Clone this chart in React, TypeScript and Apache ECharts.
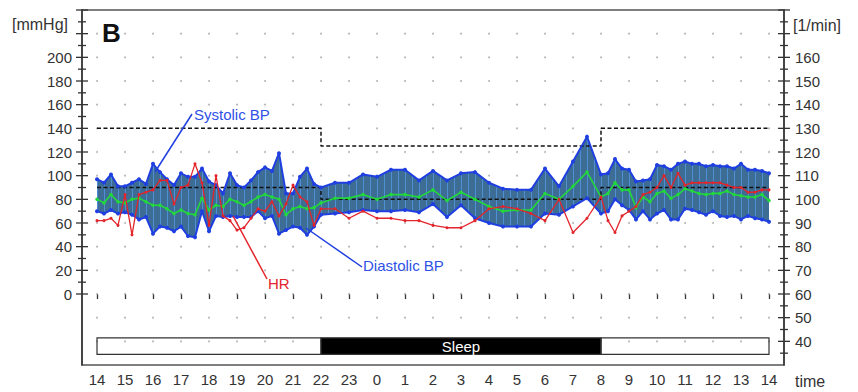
import React, { useEffect, useRef } from "react";
import * as echarts from "echarts";

// ---- Data (hours; 24+ = next day) ----
const times = [
  14, 14.25, 14.5, 14.75, 15, 15.25, 15.5, 15.75, 16, 16.25, 16.5, 16.75, 17, 17.25, 17.5, 17.75,
  18, 18.25, 18.5, 18.75, 19, 19.25, 19.5, 19.75, 20, 20.25, 20.5, 20.75, 21, 21.25, 21.5, 21.75, 22,
  22.5, 23, 23.5, 24, 24.5, 25, 25.5, 26, 26.5, 27, 27.5, 28, 28.5, 29, 29.5, 30, 30.5, 31, 31.5,
  32, 32.25, 32.5, 32.75, 33, 33.25, 33.5, 33.75, 34, 34.25, 34.5, 34.75, 35, 35.25, 35.5, 35.75,
  36, 36.25, 36.5, 36.75, 37, 37.25, 37.5, 37.75, 38,
];
const systolic = [
  97, 94, 101, 91, 91, 94, 97, 93, 110, 103, 97, 92, 102, 99, 99, 106, 95, 92, 85, 102, 92, 90, 96, 103, 107, 104, 119, 85, 85, 99, 106, 93, 90,
  94, 94, 101, 99, 105, 105, 96, 104, 96, 102, 103, 94, 89, 88, 88, 106, 91, 112, 133,
  101, 102, 114, 106, 105, 95, 96, 97, 109, 108, 105, 110, 112, 110, 110, 108, 109, 108, 108, 106, 110, 105, 105, 104, 102,
];
const diastolic = [
  70, 68, 71, 68, 69, 67, 63, 65, 51, 57, 56, 53, 57, 49, 48, 70, 53, 66, 65, 66, 65, 65, 65, 70, 64, 66, 51, 54, 57, 56, 50, 57, 67,
  68, 69, 71, 70, 70, 71, 69, 76, 65, 75, 64, 60, 57, 57, 57, 68, 67, 74, 81,
  68, 70, 80, 75, 71, 63, 70, 63, 68, 71, 63, 63, 72, 71, 69, 67, 70, 66, 65, 66, 63, 66, 64, 63, 61,
];
const meanBP = [
  80, 77, 84, 78, 77, 80, 81, 78, 75, 75, 72, 68, 71, 68, 67, 81, 71, 75, 74, 80, 78, 75, 78, 82, 84, 82, 80, 67, 72, 74, 72, 73, 77,
  81, 81, 84, 80, 84, 84, 82, 88, 79, 86, 80, 74, 70, 71, 71, 85, 80, 91, 103,
  82, 85, 94, 88, 88, 73, 82, 78, 85, 87, 81, 84, 89, 87, 85, 84, 85, 85, 87, 84, 83, 82, 82, 84, 79,
];
const heartRate = [
  91, 91, 92, 89, 102, 85, 102, 103, 104, 108, 108, 98, 105, 106, 115, 107, 89, 110, 93, 91, 87, 88, 92, 96, 95, 99, 93, 98, 106, 101, 99, 89, 96,
  96, 92, 95, 92, 92, 91, 91, 89, 88, 88, 91, 96, 97, 96, 94, 91, 100, 86, 92,
  101, 91, 86, 93, 95, 97, 102, 103, 105, 110, 105, 111, 106, 107, 107, 107, 107, 107, 106, 105, 105, 103, 103, 104, 104,
];

// Threshold step lines (mmHg)
const limitTimes = [14, 22, 32, 38];
const systolicLimit = [140, 125, 140, 140];
const diastolicLimit = [90, 80, 90, 90];

// Sleep bar
const sleepStart = [14, 22, 32];
const sleepEnd = [22, 32, 38];
const sleepFlag = [0, 1, 0];
const sleepText = ["", "Sleep", ""];

// Tick / grid values
const hourTicks = [14, 15, 16, 17, 18, 19, 20, 21, 22, 23, 24, 25, 26, 27, 28, 29, 30, 31, 32, 33, 34, 35, 36, 37, 38];
const dotLevels = [-40, -20, 0, 20, 40, 60, 80, 100, 120, 140, 160, 180, 200, 220];
const leftTickValues = [0, 10, 20, 30, 40, 50, 60, 70, 80, 90, 100, 110, 120, 130, 140, 150, 160, 170, 180, 190, 200, 210, 220, 230, 240];
const rightTickValues = [35, 40, 45, 50, 55, 60, 65, 70, 75, 80, 85, 90, 95, 100, 105, 110, 115, 120, 125, 130, 135, 140, 145, 150, 155, 160, 165, 170, 175, 180];

// ---- Styles ----
const FONT = '"Liberation Sans", Arial, sans-serif';
const BLUE = "#1f3fe0";
const LABEL_BLUE = "#2f52e6";
const GREEN = "#22d83a";
const RED = "#e3242b";
const BAND = "#3d6d95";
const STRIPE = "#4f90d2";
const AXIS = "#333";
const AXIS_OFFSET = 15;
const SLEEP_TOP = -37;
const SLEEP_BOTTOM = -51;

function makeStripePattern(offsetPx: number, stepPx: number) {
  const w = Math.max(2, Math.round(stepPx));
  const h = 4;
  const c = document.createElement("canvas");
  c.width = w;
  c.height = h;
  const ctx = c.getContext("2d")!;
  ctx.fillStyle = BAND;
  ctx.fillRect(0, 0, w, h);
  ctx.fillStyle = STRIPE;
  const col = ((Math.round(offsetPx) % w) + w) % w;
  ctx.fillRect(col, 0, 1, h);
  return { image: c, repeat: "repeat", imageWidth: w, imageHeight: h };
}

export default function App() {
  const ref = useRef<HTMLDivElement>(null);

  useEffect(() => {
    if (!ref.current) return;
    const chart = echarts.init(ref.current, null, { renderer: "svg" });

    const dots: number[][] = [];
    hourTicks.forEach((h) => dotLevels.forEach((l) => dots.push([h, l])));

    const option: any = {
      animation: false,
      backgroundColor: "#fff",
      grid: { left: 97, right: 89, top: 10, bottom: 27, containLabel: false, outerBoundsMode: "none" },
      xAxis: {
        type: "value",
        min: 14,
        max: 38,
        interval: 1,
        axisLine: { show: false },
        axisTick: { show: true, length: 5, lineStyle: { color: AXIS, width: 1.3 } },
        splitLine: { show: false },
        axisLabel: {
          formatter: (v: number) => String(v % 24),
          color: AXIS,
          fontSize: 15,
          fontFamily: FONT,
          margin: 7,
        },
      },
      yAxis: [
        {
          type: "value",
          position: "left",
          offset: AXIS_OFFSET,
          min: -60,
          max: 240,
          interval: 20,
          axisLine: { show: true, lineStyle: { color: AXIS, width: 1.5 } },
          axisTick: { show: false },
          splitLine: { show: false },
          axisLabel: {
            formatter: (v: number) => (v >= 0 && v <= 200 ? String(v) : ""),
            color: AXIS,
            fontSize: 15,
            fontFamily: FONT,
            margin: 10,
          },
        },
        {
          type: "value",
          position: "right",
          offset: AXIS_OFFSET,
          min: 30,
          max: 180,
          interval: 10,
          axisLine: { show: true, lineStyle: { color: AXIS, width: 1.5 } },
          axisTick: { show: false },
          splitLine: { show: false },
          axisLabel: {
            formatter: (v: number) => (v >= 40 && v <= 160 ? String(v) : ""),
            color: AXIS,
            fontSize: 15,
            fontFamily: FONT,
            margin: 11,
          },
        },
      ],
      graphic: [
        { type: "rect", z: 0, silent: true, shape: { x: 82, y: 10, width: 702, height: 355 }, style: { fill: "none", stroke: "#555", lineWidth: 1.5 } },
        { type: "text", x: 102, y: 33, z: 100, style: { text: "B", font: `bold 26px ${FONT}`, fill: "#111", verticalAlign: "middle" } },
        { type: "text", x: 12, y: 24, z: 100, style: { text: "[mmHg]", font: `16px ${FONT}`, fill: AXIS, verticalAlign: "middle" } },
        { type: "text", x: 793, y: 25, z: 100, style: { text: "[1/min]", font: `16px ${FONT}`, fill: AXIS, verticalAlign: "middle" } },
        { type: "text", x: 795, y: 381, z: 100, style: { text: "time", font: `16px ${FONT}`, fill: AXIS, verticalAlign: "middle" } },
        { type: "line", z: 100, shape: { x1: 155, y1: 172, x2: 192, y2: 114 }, style: { stroke: BLUE, lineWidth: 1.5 } },
        { type: "text", x: 194, y: 114, z: 100, style: { text: "Systolic BP", font: `15px ${FONT}`, fill: LABEL_BLUE, verticalAlign: "middle" } },
        { type: "line", z: 100, shape: { x1: 306, y1: 228, x2: 362, y2: 267 }, style: { stroke: BLUE, lineWidth: 1.5 } },
        { type: "text", x: 363, y: 265, z: 100, style: { text: "Diastolic BP", font: `15px ${FONT}`, fill: LABEL_BLUE, verticalAlign: "middle" } },
        { type: "line", z: 100, shape: { x1: 233, y1: 216, x2: 267, y2: 279 }, style: { stroke: RED, lineWidth: 1.5 } },
        { type: "text", x: 268, y: 283, z: 100, style: { text: "HR", font: `15px ${FONT}`, fill: RED, verticalAlign: "middle" } },
      ],
      series: [
        {
          type: "scatter",
          data: dots,
          symbolSize: 2,
          itemStyle: { color: "#a5a5a5" },
          silent: true,
          z: 1,
        },
        {
          type: "custom",
          data: [[14, 0]],
          encode: { x: 0, y: 1 },
          silent: true,
          z: 2,
          renderItem: (_p: any, api: any) => {
            const top = times.map((t, i) => api.coord([t, systolic[i]]));
            const bottom = times.map((t, i) => api.coord([t, diastolic[i]])).reverse();
            const x0 = api.coord([14, 0])[0];
            const step = api.coord([14.25, 0])[0] - x0;
            return {
              type: "polygon",
              shape: { points: top.concat(bottom) },
              style: { fill: makeStripePattern(x0, step), stroke: "none" },
            };
          },
        },
        {
          type: "custom",
          data: sleepStart.map((s, i) => [s, SLEEP_TOP, sleepEnd[i], sleepFlag[i]]),
          encode: { x: 0, y: 1 },
          silent: true,
          clip: false,
          z: 3,
          renderItem: (params: any, api: any) => {
            const p1 = api.coord([api.value(0), SLEEP_TOP]);
            const p2 = api.coord([api.value(2), SLEEP_BOTTOM]);
            const isSleep = api.value(3) === 1;
            const children: any[] = [
              {
                type: "rect",
                shape: { x: p1[0], y: p1[1], width: p2[0] - p1[0], height: p2[1] - p1[1] },
                style: { fill: isSleep ? "#000" : "none", stroke: "#333", lineWidth: 1.2 },
              },
            ];
            const txt = sleepText[params.dataIndex];
            if (txt) {
              children.push({
                type: "text",
                style: {
                  text: txt,
                  x: (p1[0] + p2[0]) / 2,
                  y: (p1[1] + p2[1]) / 2 + 0.5,
                  fill: "#fff",
                  font: `15px ${FONT}`,
                  align: "center",
                  verticalAlign: "middle",
                },
              });
            }
            return { type: "group", children };
          },
        },
        {
          type: "line",
          data: limitTimes.map((t, i) => [t, systolicLimit[i]]),
          step: "end",
          symbol: "none",
          lineStyle: { color: "#111", width: 1.5, type: [4, 2.5] },
          silent: true,
          z: 3,
        },
        {
          type: "line",
          data: limitTimes.map((t, i) => [t, diastolicLimit[i]]),
          step: "end",
          symbol: "none",
          lineStyle: { color: "#111", width: 1.5, type: [4, 2.5] },
          silent: true,
          z: 3,
        },
        {
          type: "line",
          data: times.map((t, i) => [t, systolic[i]]),
          symbol: "circle",
          symbolSize: 4,
          lineStyle: { color: BLUE, width: 2 },
          itemStyle: { color: BLUE },
          silent: true,
          z: 4,
        },
        {
          type: "line",
          data: times.map((t, i) => [t, diastolic[i]]),
          symbol: "circle",
          symbolSize: 4,
          lineStyle: { color: BLUE, width: 2 },
          itemStyle: { color: BLUE },
          silent: true,
          z: 4,
        },
        {
          type: "line",
          data: times.map((t, i) => [t, meanBP[i]]),
          symbol: "circle",
          symbolSize: 3.5,
          lineStyle: { color: GREEN, width: 1.6 },
          itemStyle: { color: GREEN },
          silent: true,
          z: 5,
        },
        {
          type: "line",
          yAxisIndex: 1,
          data: times.map((t, i) => [t, heartRate[i]]),
          symbol: "circle",
          symbolSize: 3,
          lineStyle: { color: RED, width: 1.3 },
          itemStyle: { color: RED },
          silent: true,
          z: 6,
        },
        {
          type: "custom",
          yAxisIndex: 0,
          data: leftTickValues.map((v) => [14, v]),
          encode: { x: 0, y: 1 },
          silent: true,
          clip: false,
          z: 10,
          renderItem: (_p: any, api: any) => {
            const v = api.value(1);
            const p = api.coord([14, v]);
            const x = p[0] - AXIS_OFFSET;
            const len = v % 20 === 0 ? 6 : 4;
            return { type: "line", shape: { x1: x - len, y1: p[1], x2: x + len, y2: p[1] }, style: { stroke: AXIS, lineWidth: 1.3 } };
          },
        },
        {
          type: "custom",
          yAxisIndex: 1,
          data: rightTickValues.map((v) => [38, v]),
          encode: { x: 0, y: 1 },
          silent: true,
          clip: false,
          z: 10,
          renderItem: (_p: any, api: any) => {
            const v = api.value(1);
            const p = api.coord([38, v]);
            const x = p[0] + AXIS_OFFSET;
            const len = v % 10 === 0 ? 6 : 4;
            return { type: "line", shape: { x1: x - len, y1: p[1], x2: x + len, y2: p[1] }, style: { stroke: AXIS, lineWidth: 1.3 } };
          },
        },
      ],
    };

    chart.setOption(option);
    return () => chart.dispose();
  }, []);

  return (
    <div
      ref={ref}
      style={{ position: "fixed", left: 0, top: 0, width: 858, height: 392, background: "#fff" }}
    />
  );
}
